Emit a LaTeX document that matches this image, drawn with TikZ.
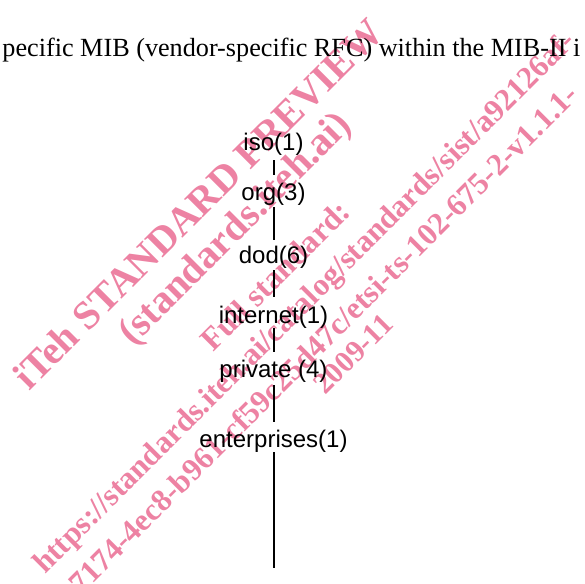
\documentclass[tikz,border=0pt]{standalone}
\usepackage{fontspec}
\setmainfont{Liberation Serif}
\newfontfamily\arialfont{Liberation Sans}
\definecolor{wmpink}{RGB}{237,130,163}
\begin{document}
\begin{tikzpicture}[x=0.5pt,y=-0.5pt,
  wm/.style={text=wmpink, rotate=45, anchor=base west, inner sep=0pt},
  oid/.style={font=\arialfont\fontsize{12}{14}\selectfont, inner sep=0pt, anchor=base},
  link/.style={line width=1pt}]
\useasboundingbox[fill=white] (0,0) rectangle (585,584);

% watermark stamp
\node[wm, font=\bfseries\fontsize{20}{24}\selectfont] (wa) at (29,392) {iTeh STANDARD PREVIEW};
\node[wm, font=\bfseries\fontsize{20}{24}\selectfont] (wb) at (133,347) {(standards.iteh.ai)};
\node[wm, font=\bfseries\fontsize{16}{19}\selectfont] (wc) at (213,353) {Full standard:};
\node[wm, font=\bfseries\fontsize{15.6}{18}\selectfont] (wd) at (45,575) {https://standards.iteh.ai/catalog/standards/sist/a92126af-};
\node[wm, font=\bfseries\fontsize{15.6}{18}\selectfont] (we) at (81,596) {7174-4ec8-b961-cf59c25d47c/etsi-ts-102-675-2-v1.1.1-};
\node[wm, font=\bfseries\fontsize{15}{18}\selectfont] (wf) at (325,396) {2009-11};

% running text line
\node[anchor=base west, inner sep=0pt, font=\fontsize{13.1}{15}\selectfont] (head) at (2,56)
  {pecific MIB (vendor-specific RFC) within the MIB-II i};

% object identifier path
\node[oid] (iso) at (273.5,150) {iso(1)};
\node[oid] (org) at (273.5,200) {org(3)};
\node[oid] (dod) at (273.5,263) {dod(6)};
\node[oid] (inet) at (273.5,323) {internet(1)};
\node[oid] (priv) at (273.5,377) {private (4)};
\node[oid] (ent) at (273.5,447) {enterprises(1)};
\coordinate (tail) at (273.5,568);

\draw[link, shorten <=2.5pt, shorten >=3.75pt] (iso.south) -- (org.north);
\draw[link, shorten <=1pt, shorten >=2.75pt] (org.south) -- (dod.north);
\draw[link, shorten <=1pt, shorten >=4.25pt] (dod.south) -- (inet.north);
\draw[link, shorten >=3.75pt] (inet.south) -- (priv.north);
\draw[link, shorten <=1.5pt, shorten >=3.75pt] (priv.south) -- (ent.north);
\draw[link] (ent.south) -- (tail);
\end{tikzpicture}
\end{document}
